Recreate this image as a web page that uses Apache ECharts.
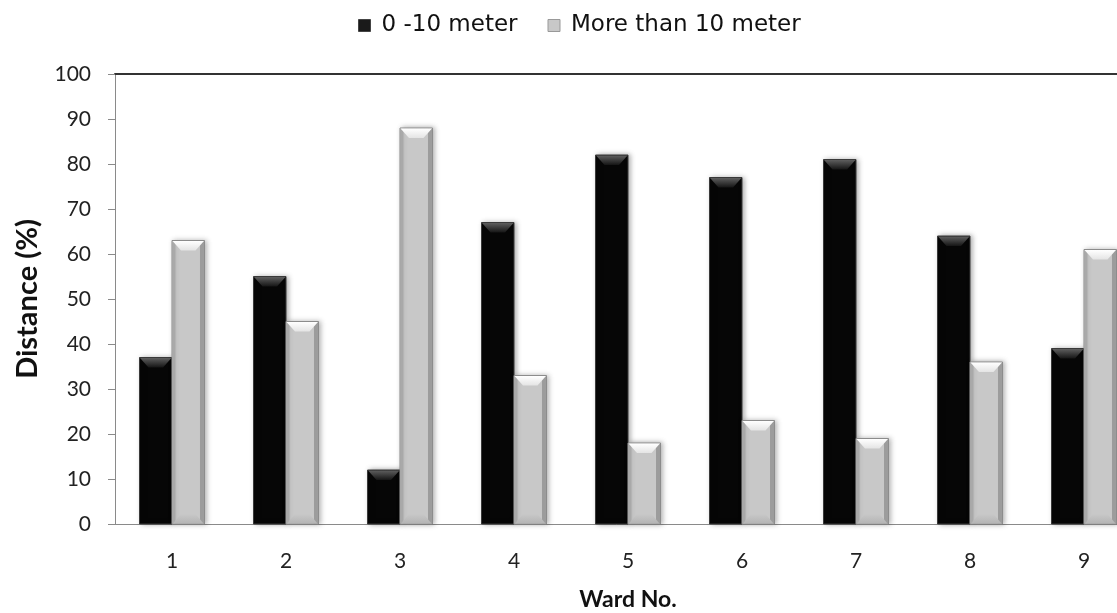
<!DOCTYPE html>
<html>
<head>
<meta charset="utf-8">
<script src="https://cdn.jsdelivr.net/npm/echarts@6/dist/echarts.min.js"></script>
<style>
  html, body { margin: 0; padding: 0; background: #fff; }
  #chart { width: 1117px; height: 613px; }
</style>
</head>
<body>
<div id="chart"></div>
<script>
// Share of households by distance, per ward
const wards = ['1', '2', '3', '4', '5', '6', '7', '8', '9'];
const near = [37, 55, 12, 67, 82, 77, 81, 64, 39];      // 0 -10 meter
const far  = [63, 45, 88, 33, 18, 23, 19, 36, 61];      // More than 10 meter
const yTicks = [0, 10, 20, 30, 40, 50, 60, 70, 80, 90, 100];

const SERIES_NAMES = ['0 -10 meter', 'More than 10 meter'];
const BAR_FRAC = 0.285;

// Bevelled column: body, top bevel, side shading, bottom bevel
function bevelBar(side, dark) {
  return function (params, api) {
    const idx = api.value(0);
    const val = api.value(1);
    const top = api.coord([idx, val]);
    const base = api.coord([idx, 0]);
    const band = api.size([1, 0])[0];
    const w = band * BAR_FRAC;
    const x = side === 0 ? top[0] - w : top[0];
    const y = top[1];
    const h = base[1] - top[1];
    const d = Math.min(10, h / 2);          // bevel depth
    const inset = Math.min(9, w / 3);
    const children = [];

    children.push({
      type: 'rect',
      shape: { x: x, y: y, width: w, height: h },
      style: {
        fill: dark ? '#060606' : '#c8c8c8',
        stroke: dark ? '#3a3a3a' : '#8c8c8c',
        lineWidth: 1,
        shadowBlur: 5,
        shadowOffsetX: 2,
        shadowOffsetY: 0,
        shadowColor: 'rgba(0,0,0,0.35)'
      }
    });

    if (!dark) {
      // darker side strips
      children.push({
        type: 'rect',
        shape: { x: x + 0.5, y: y + 0.5, width: 3, height: h - 1 },
        style: { fill: '#a9a9a9' }
      });
      children.push({
        type: 'rect',
        shape: { x: x + w - 4.5, y: y + 0.5, width: 4, height: h - 1 },
        style: { fill: '#9c9c9c' }
      });
      // bottom bevel
      children.push({
        type: 'polygon',
        shape: { points: [[x + 1, base[1] - 0.5], [x + w - 1, base[1] - 0.5], [x + w - inset, base[1] - d], [x + inset, base[1] - d]] },
        style: {
          fill: new echarts.graphic.LinearGradient(0, 0, 0, 1, [
            { offset: 0, color: '#c8c8c8' },
            { offset: 1, color: '#b4b4b4' }
          ])
        }
      });
    }

    // top bevel
    children.push({
      type: 'polygon',
      shape: { points: [[x + 0.5, y + 0.5], [x + w - 0.5, y + 0.5], [x + w - inset, y + d], [x + inset, y + d]] },
      style: {
        fill: new echarts.graphic.LinearGradient(0, 0, 0, 1, dark ? [
          { offset: 0, color: '#5e5e5e' },
          { offset: 1, color: '#151515' }
        ] : [
          { offset: 0, color: '#ffffff' },
          { offset: 1, color: '#e4e4e4' }
        ])
      }
    });

    return { type: 'group', children: children };
  };
}

const chart = echarts.init(document.getElementById('chart'), null, { renderer: 'canvas' });

const tickFont = 'Lato, Carlito, sans-serif';

const option = {
  animation: false,
  backgroundColor: '#ffffff',
  legend: {
    top: 9,
    left: 353,
    itemWidth: 12,
    itemHeight: 12,
    itemGap: 30,
    icon: 'rect',
    textStyle: { fontFamily: 'DejaVu Sans, sans-serif', fontSize: 23, color: '#111', padding: [0, 0, 0, 6] },
    data: [
      { name: SERIES_NAMES[0], itemStyle: { color: '#1a1a1a', borderColor: '#444', borderWidth: 1 } },
      { name: SERIES_NAMES[1], itemStyle: { color: '#c8c8c8', borderColor: '#999', borderWidth: 1 } }
    ]
  },
  grid: { left: 115, top: 74, width: 1026, height: 450, containLabel: false, outerBoundsMode: 'none' },
  xAxis: [{
    type: 'category',
    data: wards,
    name: 'Ward No.',
    nameLocation: 'middle',
    nameGap: 64,
    nameTextStyle: { fontFamily: tickFont, fontWeight: 'bold', fontSize: 23, color: '#111' },
    axisLine: { lineStyle: { color: '#8a8a8a', width: 1 } },
    axisTick: { show: false },
    axisLabel: { margin: 27, fontFamily: tickFont, fontSize: 21, color: '#222' },
    splitLine: { show: false }
  }, {
    type: 'category',
    data: wards,
    position: 'top',
    axisLine: { lineStyle: { color: '#333', width: 2 } },
    axisTick: { show: false },
    axisLabel: { show: false }
  }],
  yAxis: {
    type: 'value',
    min: yTicks[0],
    max: yTicks[yTicks.length - 1],
    interval: yTicks[1] - yTicks[0],
    name: 'Distance (%)',
    nameLocation: 'middle',
    nameGap: 73,
    nameTextStyle: { fontFamily: tickFont, fontWeight: 'bold', fontSize: 29, color: '#111' },
    axisLine: { show: true, lineStyle: { color: '#8a8a8a', width: 1 } },
    axisTick: { show: true, inside: false, length: 7, lineStyle: { color: '#8a8a8a' } },
    axisLabel: { margin: 24, fontFamily: tickFont, fontSize: 21, color: '#222' },
    splitLine: { show: false }
  },
  series: [
    {
      name: SERIES_NAMES[0],
      type: 'custom',
      renderItem: bevelBar(0, true),
      itemStyle: { color: '#1a1a1a' },
      encode: { x: 0, y: 1 },
      data: near.map((v, i) => [i, v]),
      clip: false
    },
    {
      name: SERIES_NAMES[1],
      type: 'custom',
      renderItem: bevelBar(1, false),
      itemStyle: { color: '#c8c8c8' },
      encode: { x: 0, y: 1 },
      data: far.map((v, i) => [i, v]),
      clip: false
    }
  ]
};

chart.setOption(option);
</script>
</body>
</html>
